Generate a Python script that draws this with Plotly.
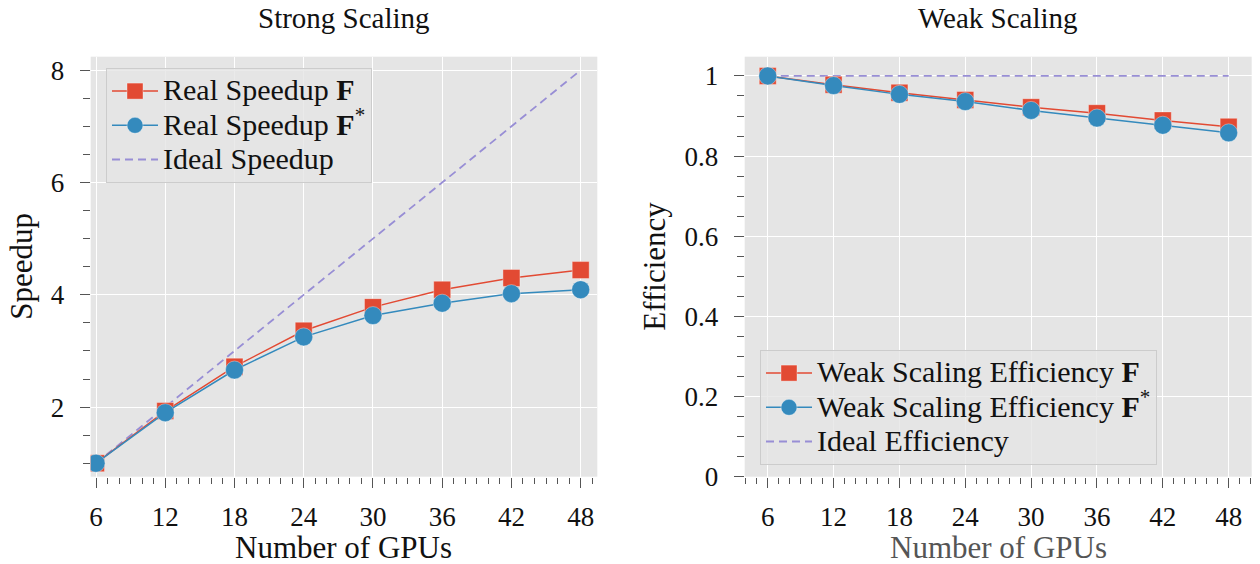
import plotly.graph_objects as go

gpus = [6, 12, 18, 24, 30, 36, 42, 48]
speedup_F = [1.0, 1.93, 2.72, 3.36, 3.78, 4.09, 4.30, 4.44]
speedup_Fstar = [1.0, 1.90, 2.66, 3.25, 3.63, 3.85, 4.02, 4.09]
ideal_speedup = [1, 2, 3, 4, 5, 6, 7, 8]
eff_F = [1.0, 0.978, 0.958, 0.940, 0.922, 0.907, 0.889, 0.873]
eff_Fstar = [1.0, 0.976, 0.954, 0.936, 0.914, 0.895, 0.877, 0.858]
ideal_eff = [1, 1, 1, 1, 1, 1, 1, 1]

x_ticks = [6, 12, 18, 24, 30, 36, 42, 48]
speed_ticks = [2, 4, 6, 8]
eff_ticks = [0, 0.2, 0.4, 0.6, 0.8, 1]
eff_tick_text = ["0", "0.2", "0.4", "0.6", "0.8", "1"]

RED = "#E24A33"
BLUE = "#348ABD"
PURPLE = "#988ED5"
FONT = "Liberation Serif"
LEG_PX = 30


def leg(txt):
    return f"<span style='font-size:{LEG_PX}px'>{txt}</span>"


fig = go.Figure()


def add(x, y, name, color, symbol, size, xa, ya, legend, rank, dashed=False):
    if dashed:
        fig.add_trace(go.Scatter(
            x=x, y=y, name=leg(name), mode="lines", xaxis=xa, yaxis=ya,
            legend=legend, legendrank=rank,
            line=dict(color=PURPLE, width=1.8, dash="8px,5px"),
        ))
    else:
        fig.add_trace(go.Scatter(
            x=x, y=y, name=leg(name), mode="lines+markers", xaxis=xa, yaxis=ya,
            legend=legend, legendrank=rank,
            line=dict(color=color, width=1.5),
            marker=dict(symbol=symbol, size=size, color=color,
                        line=dict(color="rgba(255,255,255,0.35)", width=1)),
        ))


STAR = "<sup>*</sup>"
add(gpus, ideal_speedup, "Ideal Speedup", PURPLE, None, 0, "x", "y", "legend", 3, dashed=True)
add(gpus, speedup_F, "Real Speedup <b>F</b>", RED, "square", 17, "x", "y", "legend", 1)
add(gpus, speedup_Fstar, "Real Speedup <b>F</b>" + STAR, BLUE, "circle", 18, "x", "y", "legend", 2)

add(gpus, ideal_eff, "Ideal Efficiency", PURPLE, None, 0, "x2", "y2", "legend2", 3, dashed=True)
add(gpus, eff_F, "Weak Scaling Efficiency <b>F</b>", RED, "square", 17, "x2", "y2", "legend2", 1)
add(gpus, eff_Fstar, "Weak Scaling Efficiency <b>F</b>" + STAR, BLUE, "circle", 18, "x2", "y2", "legend2", 2)

TICKC = "#555555"
common_x = dict(
    tickvals=x_ticks, ticks="outside", ticklen=10, tickwidth=1, tickcolor=TICKC,
    showgrid=True, gridcolor="white", gridwidth=1.3, zeroline=False,
    showline=False, ticklabelstandoff=6, automargin=False,
    tickfont=dict(family=FONT, size=27, color="#111111"),
    minor=dict(dtick=1, tick0=6, ticks="outside", ticklen=6, tickwidth=1,
               tickcolor=TICKC, showgrid=False),
)
common_y = dict(
    ticks="outside", ticklen=10, tickwidth=1, tickcolor=TICKC,
    showgrid=True, gridcolor="white", gridwidth=1.3, zeroline=False,
    showline=False, ticklabelstandoff=10, automargin=False,
    tickfont=dict(family=FONT, size=27, color="#111111"),
)

y_dom = [1 - 476.7 / 564, 1 - 56.7 / 564]

legend_common = dict(
    xanchor="left", yanchor="top",
    bgcolor="rgba(229,229,229,0.8)", bordercolor="#cccccc",
    borderwidth=1, itemwidth=46,
    font=dict(family=FONT, size=24, color="#111111"),
    tracegroupgap=0,
)

fig.update_layout(
    width=1260, height=564,
    margin=dict(l=0, r=0, t=0, b=0, autoexpand=False),
    paper_bgcolor="white", plot_bgcolor="#E5E5E5",
    font=dict(family=FONT, size=27, color="#111111"),
    xaxis=dict(domain=[90.7 / 1260, 597.3 / 1260], range=[5.54, 49.44],
               anchor="y", **common_x),
    yaxis=dict(domain=y_dom, range=[0.76, 8.24], tickvals=speed_ticks,
               anchor="x",
               minor=dict(dtick=0.5, tick0=0, ticks="outside", ticklen=7,
                          tickwidth=1, tickcolor=TICKC, showgrid=False),
               **common_y),
    xaxis2=dict(domain=[744.7 / 1260, 1251.7 / 1260], range=[3.9, 50.1],
                anchor="y2", **common_x),
    yaxis2=dict(domain=y_dom, range=[0, 1.048], tickvals=eff_ticks,
                ticktext=eff_tick_text, anchor="x2",
                minor=dict(dtick=0.05, tick0=0, ticks="outside", ticklen=7,
                           tickwidth=1, tickcolor=TICKC, showgrid=False),
                **common_y),
    legend=dict(x=106 / 1260, y=1 - 68 / 564, **legend_common),
    legend2=dict(x=760 / 1260, y=1 - 350 / 564, **legend_common),
    showlegend=True,
)

annotations = [
    dict(text="Strong Scaling", x=0.5, y=1.0, xref="x domain", yref="paper",
         yanchor="top", showarrow=False, font=dict(size=29)),
    dict(text="Weak Scaling", x=0.5, y=1.0, xref="x2 domain", yref="paper",
         yanchor="top", showarrow=False, font=dict(size=29)),
    dict(text="Number of GPUs", x=0.5, y=1 - 547 / 564, xref="x domain", yref="paper",
         yanchor="middle", showarrow=False, font=dict(size=31)),
    dict(text="Number of GPUs", x=0.5, y=1 - 547 / 564, xref="x2 domain", yref="paper",
         yanchor="middle", showarrow=False, font=dict(size=31, color="#555555")),
    dict(text="Speedup", x=22 / 1260, y=0.5, xref="paper", yref="y domain",
         xanchor="center", yanchor="middle", textangle=-90, showarrow=False,
         font=dict(size=31)),
    dict(text="Efficiency", x=655 / 1260, y=0.5, xref="paper", yref="y2 domain",
         xanchor="center", yanchor="middle", textangle=-90, showarrow=False,
         font=dict(size=31)),
]
fig.update_layout(annotations=annotations)

fig.write_html("out.html")
